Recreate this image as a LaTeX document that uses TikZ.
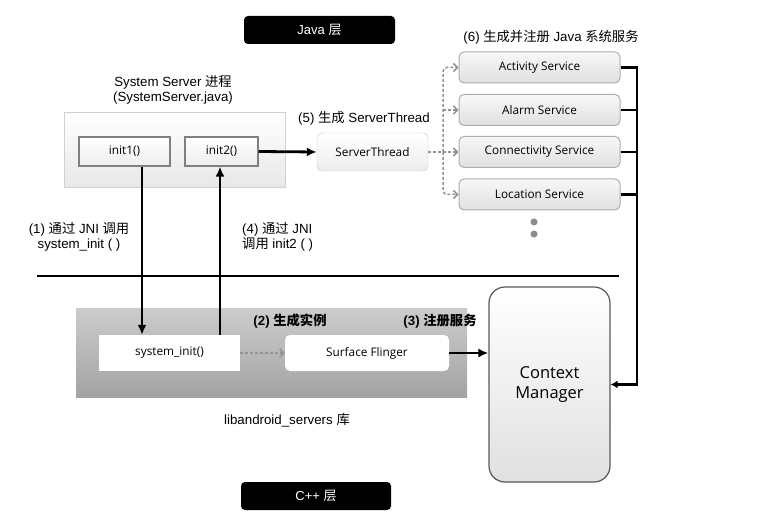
\documentclass[tikz,border=0pt]{standalone}
\usepackage{fontspec}
\setmainfont{Liberation Sans}
\newfontfamily\cjk{Noto Sans CJK SC}
\newfontfamily\ui{Open Sans}
\usetikzlibrary{arrows.meta,calc}
\tikzset{
  lbl/.style={font=\fontsize{13.3}{15.5}\selectfont, align=center, inner sep=0pt},
  blbl/.style={font=\bfseries\fontsize{13.3}{15.5}\selectfont, inner sep=0pt},
  layerbox/.style={fill=black, rounded corners=4pt, text=white, minimum width=151pt, minimum height=28pt, font=\fontsize{13}{15}\selectfont},
  svc/.style={draw=black!32, line width=1pt, rounded corners=5pt, top color=black!3, bottom color=black!12, minimum width=161pt, minimum height=31pt, font=\ui\fontsize{11.8}{13}\selectfont},
  initbox/.style={draw=black!50, line width=1.2pt, top color=white, bottom color=black!7, minimum height=29pt, font=\ui\fontsize{11.8}{13}\selectfont},
  cbox/.style={fill=white, minimum height=36pt, font=\ui\fontsize{11.8}{13}\selectfont},
  blk/.style={line width=2.8pt, -{Latex[length=10pt,width=9pt]}},
  bline/.style={line width=2.8pt},
  gdash/.style={draw=black!42, line width=1.5pt, dash pattern=on 3pt off 2pt, -{Straight Barb[length=4pt,width=8pt]}},
}
\begin{document}
\begin{tikzpicture}[x=1pt,y=-1pt]
\useasboundingbox (0,0) rectangle (759,518);

% layer tags
\node[layerbox] (java) at (319.5,30) {Java {\cjk 层}};
\node[layerbox, minimum width=150pt] (cpp) at (316,496) {C++ {\cjk 层}};

% System Server
\node[lbl] (sslbl) at (173,90) {System Server {\cjk 进程}\\(SystemServer.java)};
\node[draw=black!18, top color=white, bottom color=black!9, minimum width=221pt, minimum height=75pt] (ss) at (174.5,149.5) {};
\node[initbox, minimum width=91pt] (init1) at (124.5,151.5) {init1()};
\node[initbox, minimum width=73pt] (init2) at (221.5,151.5) {init2()};

% ServerThread
\node[lbl] (l5) at (364,118) {(5) {\cjk 生成} ServerThread};
\node[draw=black!22, rounded corners=5pt, top color=white, bottom color=black!7, minimum width=111pt, minimum height=38pt, font=\ui\fontsize{11.8}{13}\selectfont] (st) at (372.5,152) {ServerThread};

% services
\node[lbl] (l6) at (551,37) {(6) {\cjk 生成并注册} Java {\cjk 系统服务}};
\node[svc] (act) at (539.5,67.5) {Activity Service};
\node[svc] (alarm) at (539.5,110) {Alarm Service};
\node[svc] (conn) at (539.5,152) {Connectivity Service};
\node[svc] (loc) at (539.5,194.5) {Location Service};
\node[circle, fill=black!45, inner sep=0pt, minimum size=7pt] (d1) at (534,222) {};
\node[circle, fill=black!45, inner sep=0pt, minimum size=7pt] (d2) at (534,234) {};

% context manager
\node[draw=black!65, line width=1.2pt, rounded corners=16pt, top color=white, bottom color=black!12, minimum width=121pt, minimum height=195pt, align=center, font=\ui\fontsize{16.5}{20}\selectfont] (cm) at (549.5,384.5) {Context\\Manager};

% divider
\coordinate (dl) at (37,276);
\coordinate (dr) at (619,276);
\draw[bline] (dl) -- (dr);

% native library
\node[top color=black!20, bottom color=black!36, minimum width=391pt, minimum height=89pt] (lib) at (271.5,352.5) {};
\node[cbox, minimum width=141pt] (sysinit) at (169.5,353) {system\_init()};
\node[cbox, rounded corners=5pt, minimum width=164pt] (sf) at (367,353) {Surface Flinger};
\node[blbl] (l2) at (290,321) {(2) {\cjk 生成实例}};
\node[blbl] (l3) at (440,321) {(3) {\cjk 注册服务}};
\node[lbl] (liblbl) at (287,420) {libandroid\_servers {\cjk 库}};

% JNI labels
\node[lbl] (l1) at (79,237) {(1) {\cjk 通过} JNI {\cjk 调用}\\system\_init ( )};
\node[lbl, anchor=west, align=left] (l4) at (242,237) {(4) {\cjk 通过} JNI\\{\cjk 调用} init2 ( )};

% connectors
\coordinate (x1) at (142,0);
\coordinate (x4) at (220,0);
\draw[blk] (x1 |- init1.south) -- (x1 |- sysinit.north);
\draw[blk] (x4 |- sysinit.north) -- (x4 |- init2.south);
\draw[blk] (init2.east) -- (st.west);

\coordinate (bx) at (443,0);
\draw[gdash] (st.east) -- (conn.west);
\draw[gdash, rounded corners=4pt] (bx |- conn.west) -- (bx |- act.west) -- (act.west);
\draw[gdash, rounded corners=4pt] (bx |- conn.west) -- (bx |- loc.west) -- (loc.west);
\draw[gdash] (bx |- alarm.west) -- (alarm.west);

\coordinate (rx) at (637,0);
\draw[line width=2.8pt, -{Latex[length=7pt,width=8pt]}] (act.east) -- (rx |- act.east) -- (rx |- cm.east) -- (cm.east);
\draw[bline] (alarm.east) -- (rx |- alarm.east);
\draw[bline] (conn.east) -- (rx |- conn.east);
\draw[bline] (loc.east) -- (rx |- loc.east);

\draw[gdash] (sysinit.east) -- (sf.west);
\draw[blk] (sf.east) -- (cm.west |- sf.east);
\end{tikzpicture}
\end{document}
